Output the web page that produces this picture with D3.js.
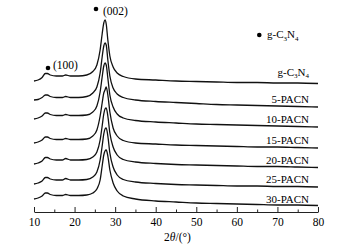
<!DOCTYPE html>
<html><head><meta charset="utf-8">
<script src="https://cdn.jsdelivr.net/npm/d3@7"></script>
<style>
html,body{margin:0;padding:0;background:#fff;}
svg{display:block;}
text{font-family:"Liberation Serif","Times New Roman",serif;fill:#000;}
</style></head>
<body>
<script>
// 2θ sampling grid (degrees)
const twoTheta = [10, 11, 12, 12.8, 13.3, 14, 15.5, 17, 17.8, 19, 21, 23, 24.5, 25.5, 26.3, 26.8, 27.2, 27.5, 27.8, 28.2, 28.7, 29.5, 30.5, 32, 35, 40, 45, 50, 55, 60, 65, 70, 75, 80];

// stacked intensities (a.u., including vertical offset)
const gC3N4  = [131,132,134.5,138.5,138.5,137,136,136,137,136,136,137,140.5,147,162,178,189,192,188,172,156,145,139,135.5,133,132,131,130.5,130,129.5,129.5,129,129,128.5];
const pacn5  = [112,112.5,114.5,117,117,115.5,114.5,114.5,115.5,114.5,114.5,115.5,119,125,139,155,166,169,167,152,136,124,118,114.5,112,110.5,109.5,108.5,107.5,107,106.5,106,105.5,105];
const pacn10 = [93,94,96,99,99,97.5,96.5,96.5,97.5,96.5,96.5,97,100,106,120,135,146,149,147,134,117,105,98,94,91.5,90,89,88,87.5,87,86.5,86,85.5,85];
const pacn15 = [69,70,72,75,75,73.5,72.5,72.5,73.5,72.5,72.5,73,76,82,96,109,119,122,125,117,100,84,76,71.5,69,68,67,66.5,66,65.5,65,65,64.5,64];
const pacn20 = [48,49,51,54.5,54.5,53,52,52,53.5,52,52,52.5,55,60,72,86,98,103,104,96,79,65,57,52.5,50,48.5,47.5,47,46.5,46,45.5,45.5,45,44.5];
const pacn25 = [28,29,31,34.5,34.5,33,32,32,33.5,32,32,32.5,35,40,52,66,78,83,84,76,59,45,37,32.5,30,28.5,27.5,27,26.5,26,26,25.5,25.5,25];
const pacn30 = [13,14,16,19,19,17.5,16.5,16.5,17.5,16.5,16.5,17,19,23,32,46,57,61,62,56,42,29,21,16,13,11,10,9,8.5,8,7.5,7,7,6.5];

const seriesNames = ["g-C3N4","5-PACN","10-PACN","15-PACN","20-PACN","25-PACN","30-PACN"];
const seriesData = [gC3N4, pacn5, pacn10, pacn15, pacn20, pacn25, pacn30];
// label anchor intensity for each curve label
const labelLevels = [136.5, 109, 89, 68, 48, 29, 9.5];

const majorTicks = [10,20,30,40,50,60,70,80];
const minorTicks = [15,25,35,45,55,65,75];

const W = 340, H = 249;
const svg = d3.select("body").append("svg").attr("width", W).attr("height", H);

const x = d3.scaleLinear().domain([10, 80]).range([34, 318]);
const y = d3.scaleLinear().domain([0, 200]).range([212, 12]);

const line = d3.line().x(d => x(d[0])).y(d => y(d[1])).curve(d3.curveMonotoneX);

seriesData.forEach((vals) => {
  svg.append("path")
    .datum(twoTheta.map((t, i) => [t, vals[i]]))
    .attr("fill", "none").attr("stroke", "#111").attr("stroke-width", 1.3)
    .attr("stroke-linejoin", "round")
    .attr("d", line);
});

// axes
const axis = d3.axisBottom(x).tickValues(majorTicks).tickSizeInner(-5).tickSizeOuter(0).tickPadding(5.5);
const gA = svg.append("g").attr("transform", "translate(0,212)").call(axis);
gA.select(".domain").attr("stroke", "#222").attr("stroke-width", 1);
gA.selectAll(".tick line").attr("stroke", "#222");
gA.selectAll(".tick text").style("font-family", '"Liberation Serif","Times New Roman",serif').style("font-size", "11.5px").attr("fill", "#000");
const minor = d3.axisBottom(x).tickValues(minorTicks).tickSizeInner(-2.5).tickSizeOuter(0).tickFormat("");
const gM = svg.append("g").attr("transform", "translate(0,212)").call(minor);
gM.select(".domain").remove();
gM.selectAll(".tick line").attr("stroke", "#222");

// axis title
const t = svg.append("text").attr("x", 177.5).attr("y", 240.5).attr("text-anchor", "middle").style("font-size", "11.5px");
t.append("tspan").text("2");
t.append("tspan").attr("font-style", "italic").text("θ");
t.append("tspan").text("/(°)");

function chem(sel, name) {
  if (name === "g-C3N4") {
    sel.append("tspan").text("g-C");
    sel.append("tspan").attr("dy", 2.5).style("font-size", "7px").text("3");
    sel.append("tspan").attr("dy", -2.5).text("N");
    sel.append("tspan").attr("dy", 2.5).style("font-size", "7px").text("4");
  } else {
    sel.text(name);
  }
}

// curve labels
seriesNames.forEach((n, i) => {
  const tx = svg.append("text").attr("x", 309).attr("y", y(labelLevels[i]))
    .attr("text-anchor", "end").style("font-size", "11px");
  chem(tx, n);
});

// peak markers
svg.append("circle").attr("cx", 96).attr("cy", 9).attr("r", 2.3).attr("fill", "#000");
svg.append("text").attr("x", 103).attr("y", 15).style("font-size", "11.5px").text("(002)");
svg.append("circle").attr("cx", 48).attr("cy", 68).attr("r", 2.3).attr("fill", "#000");
svg.append("text").attr("x", 53).attr("y", 69).style("font-size", "11.5px").text("(100)");

// legend
svg.append("circle").attr("cx", 259.3).attr("cy", 35).attr("r", 2.3).attr("fill", "#000");
const lg = svg.append("text").attr("x", 267).attr("y", 38).style("font-size", "11px");
chem(lg, "g-C3N4");
</script>
</body></html>
